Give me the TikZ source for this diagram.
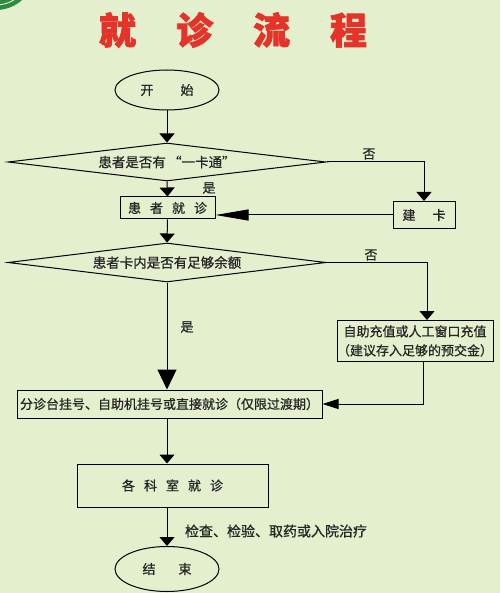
\documentclass[tikz,border=0pt]{standalone}
\usepackage{fontspec}
\setmainfont{Noto Sans CJK SC}[BoldFont={Noto Sans CJK SC}, BoldFeatures={FakeBold=0.8}]
\newfontfamily\titlefont{Noto Sans CJK SC}[FakeBold=2]
\usetikzlibrary{arrows.meta, shapes.geometric}
\definecolor{bgcolor}{HTML}{E4EFCD}
\definecolor{titlered}{HTML}{E6332A}
\definecolor{logogreen}{HTML}{2E8B3C}
\definecolor{inkcolor}{HTML}{262626}

\begin{document}
\begin{tikzpicture}[
    x=1pt, y=-1pt,
    box/.style={draw, line width=1pt, rectangle, inner sep=0pt, text=inkcolor},
    oval/.style={draw, line width=1pt, ellipse, inner sep=0pt, text=inkcolor},
    decide/.style={draw, line width=1pt, diamond, aspect=8.4, inner sep=0pt, text=inkcolor},
    lbl/.style={inner sep=0pt, text=inkcolor, font=\fontsize{13}{15}\selectfont\bfseries},
    arr/.style={line width=1pt, -{Triangle[length=9pt, width=15pt]}},
    font=\fontsize{13}{15}\selectfont\bfseries
]
    % 背景与左上角标志
    \fill[bgcolor] (0,0) rectangle (500,593);
    \useasboundingbox (0,0) rectangle (500,593);
    \fill[logogreen] (-4,-29) circle (39);
    \draw[white, line width=0.8pt] (-4,-29) circle (34);

    % 标题
    \node[text=titlered, font=\fontsize{37}{40}\titlefont\bfseries] (title) at (233,30)
        {就\hspace{40pt}诊\hspace{40pt}流\hspace{40pt}程};

    % 节点定义
    \node[oval, minimum width=104pt, minimum height=40pt] (start) at (167,90)
        {开\hspace{27pt}始};
    \node[decide, minimum width=318pt, minimum height=38pt] (d1) at (167,162)
        {\fontsize{13.5}{15}\selectfont 患者是否有\,“一卡通”};
    \node[box, minimum width=95pt, minimum height=22pt] (visit) at (167.5,208)
        {患\hspace{9pt}者\hspace{9pt}就\hspace{9pt}诊};
    \node[box, minimum width=62pt, minimum height=27pt] (card) at (424,215)
        {建\hspace{17pt}卡};
    \node[decide, minimum width=318pt, minimum height=39pt] (d2) at (167,262.5)
        {\fontsize{13.5}{15}\selectfont 患者卡内是否有足够余额};
    \node[box, minimum width=154pt, minimum height=41pt, align=center,
          font=\fontsize{13}{19}\selectfont\bfseries] (topup) at (415,341)
        {自助充值或人工窗口充值\\（建议存入足够的预交金）};
    \node[box, minimum width=305pt, minimum height=28pt] (reg) at (169.5,404)
        {分诊台挂号、自助机挂号或直接就诊（仅限过渡期）};
    \node[box, minimum width=191pt, minimum height=43pt] (dept) at (172.5,485.5)
        {各\hspace{9pt}科\hspace{9pt}室\hspace{9pt}就\hspace{9pt}诊};
    \node[oval, minimum width=104pt, minimum height=45pt] (stop) at (167,569)
        {结\hspace{23pt}束};

    % 连线
    \draw[arr] (start) -- (d1);
    \draw[arr] (d1.east) -| (card.north);
    \node[lbl] (no1) at (369,154) {否};
    \draw[arr] (d1.south) -- (visit.north);
    \node[lbl] (yes1) at (209,188) {是};
    \draw[line width=1pt, -{Triangle[length=33pt, width=11pt]}]
        (card.west) -- (card.west -| visit.east);
    \draw[arr] (visit.south) -- (d2.north);
    \draw[arr] (d2.east) -| ([xshift=12pt]topup.north);
    \node[lbl] (no2) at (371,255) {否};
    \draw[line width=1pt, -{Triangle[length=20pt, width=19pt]}]
        (d2.south) -- (d2.south |- reg.north);
    \node[lbl] (yes2) at (187,327) {是};
    \draw[line width=1pt, -{Triangle[length=16pt, width=10pt]}]
        ([xshift=8pt]topup.south) |- (reg.east);
    \draw[arr] (reg.south -| d2.south) -- (dept.north -| d2.south);
    \draw[arr] (dept.south -| d2.south) -- (stop.north);
    \node[lbl, font=\fontsize{14}{16}\selectfont\bfseries] (note) at (276,531)
        {检查、检验、取药或入院治疗};

\end{tikzpicture}
\end{document}
